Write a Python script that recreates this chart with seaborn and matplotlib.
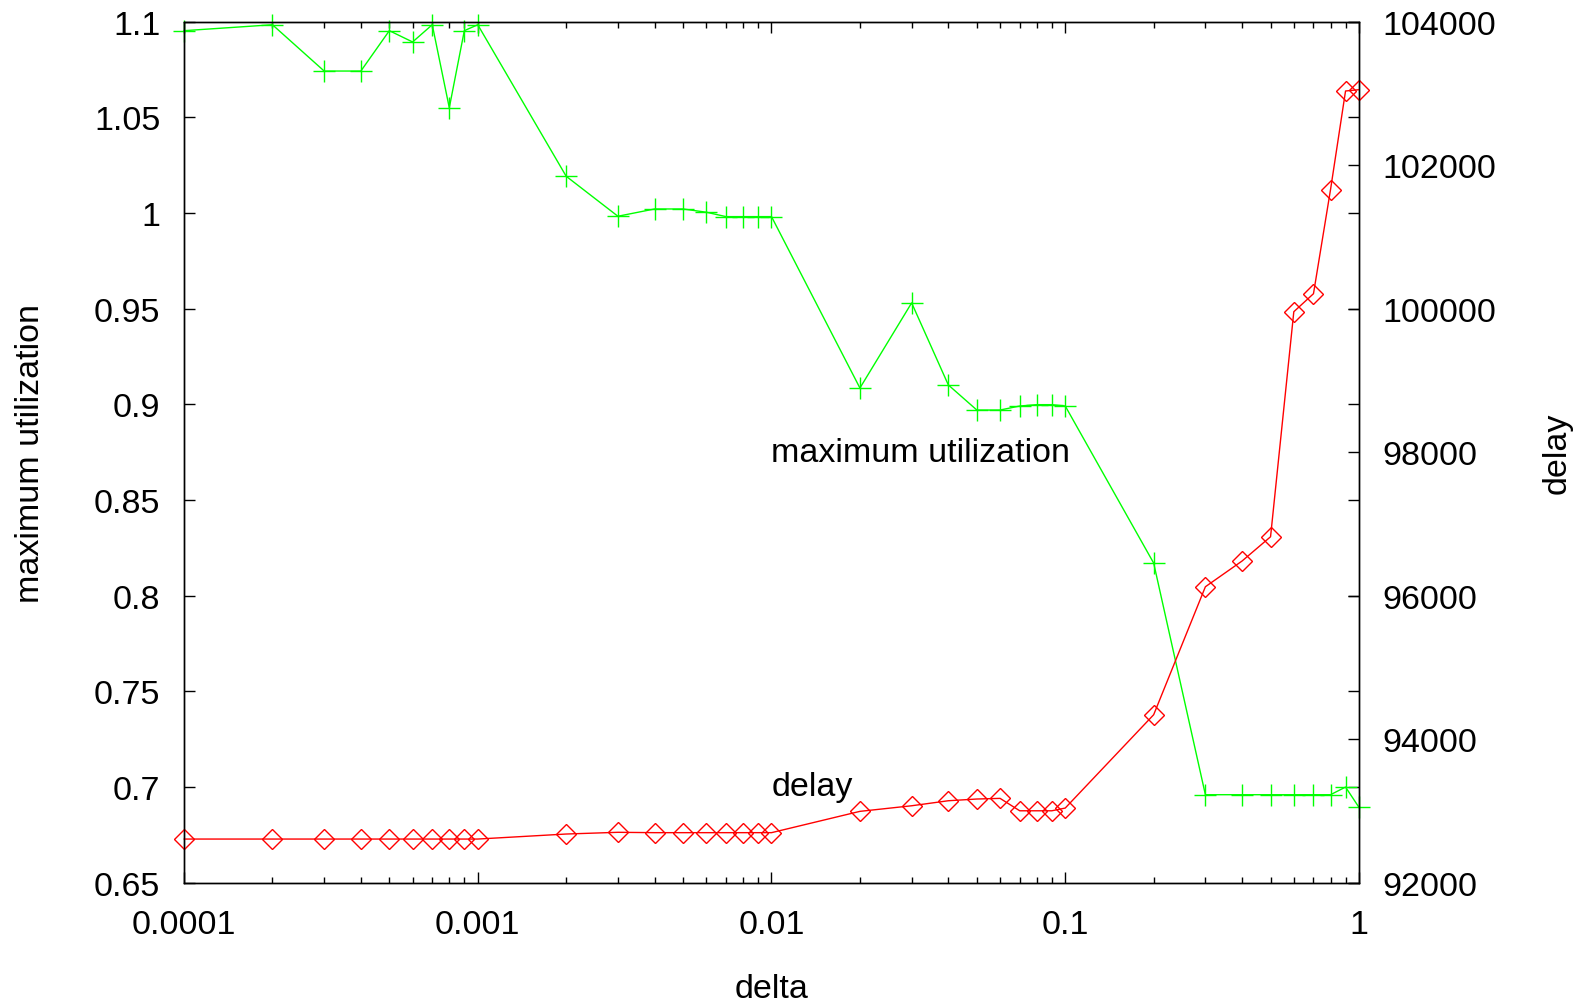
import numpy as np
import pandas as pd
import matplotlib
matplotlib.use("Agg")
import matplotlib.pyplot as plt
import matplotlib.ticker as mticker
import seaborn as sns

# ---- data ----
delta = [0.0001, 0.0002, 0.0003, 0.0004, 0.0005, 0.0006, 0.0007, 0.0008, 0.0009,
         0.001, 0.002, 0.003, 0.004, 0.005, 0.006, 0.007, 0.008, 0.009,
         0.01, 0.02, 0.03, 0.04, 0.05, 0.06, 0.07, 0.08, 0.09,
         0.1, 0.2, 0.3, 0.4, 0.5, 0.6, 0.7, 0.8, 0.9, 1.0]

max_util = [1.0953, 1.0984, 1.0742, 1.0742, 1.0953, 1.0894, 1.0984, 1.0550, 1.0953,
            1.0984, 1.0192, 0.9983, 1.0021, 1.0021, 1.0004, 0.9981, 0.9981, 0.9981,
            0.9981, 0.9085, 0.9530, 0.9101, 0.8970, 0.8970, 0.8991, 0.8998, 0.8998,
            0.8991, 0.8170, 0.6959, 0.6959, 0.6959, 0.6959, 0.6959, 0.6959, 0.6999, 0.6893]

delay = [92606, 92606, 92606, 92606, 92606, 92606, 92606, 92606, 92606,
         92606, 92676, 92700, 92695, 92695, 92695, 92695, 92695, 92695,
         92695, 92992, 93070, 93140, 93164, 93173, 93000, 93000, 93000,
         93038, 94339, 96123, 96482, 96820, 99957, 100208, 101658, 103034, 103052]

x_ticks = [0.0001, 0.001, 0.01, 0.1, 1]
x_tick_labels = ["0.0001", "0.001", "0.01", "0.1", "1"]
y_ticks = [0.65, 0.7, 0.75, 0.8, 0.85, 0.9, 0.95, 1.0, 1.05, 1.1]
y_tick_labels = ["0.65", "0.7", "0.75", "0.8", "0.85", "0.9", "0.95", "1", "1.05", "1.1"]
y2_ticks = [92000, 94000, 96000, 98000, 100000, 102000, 104000]
y2_tick_labels = ["92000", "94000", "96000", "98000", "100000", "102000", "104000"]

df = pd.DataFrame({"delta": delta, "max_util": max_util, "delay": delay})

# ---- style ----
sns.set_theme(style="white")
plt.rcParams["font.family"] = ["Liberation Sans", "DejaVu Sans"]
plt.rcParams["text.color"] = "black"
plt.rcParams["axes.labelcolor"] = "black"
plt.rcParams["xtick.color"] = "black"
plt.rcParams["ytick.color"] = "black"
FS = 24.5

fig = plt.figure(figsize=(15.85, 10.04), dpi=100)
ax = fig.add_axes([0.1161, 0.12, 0.8574 - 0.1161, 0.9774 - 0.12])
ax2 = ax.twinx()

sns.lineplot(data=df, x="delta", y="max_util", ax=ax, color="#00ff00",
             marker="+", markersize=16.5, markeredgewidth=1.0, linewidth=1.0,
             markeredgecolor="#00ff00", markerfacecolor="none", clip_on=False)
sns.lineplot(data=df, x="delta", y="delay", ax=ax2, color="#ff0000",
             marker="D", markersize=10.2, markeredgewidth=1.0, linewidth=1.0,
             markeredgecolor="#ff0000", markerfacecolor="none", clip_on=False)

for a in (ax, ax2):
    a.set_xscale("log")
    a.set_xlim(0.0001, 1)
    for s in a.spines.values():
        s.set_color("black")
        s.set_linewidth(1.0)

ax.set_ylim(0.65, 1.1)
ax2.set_ylim(92000, 104000)

ax.xaxis.set_major_locator(mticker.FixedLocator(x_ticks))
ax.xaxis.set_major_formatter(mticker.FixedFormatter(x_tick_labels))
ax.xaxis.set_minor_locator(mticker.LogLocator(base=10, subs=np.arange(2, 10), numticks=20))
ax.xaxis.set_minor_formatter(mticker.NullFormatter())

ax.set_yticks(y_ticks)
ax.set_yticklabels(y_tick_labels)
ax2.set_yticks(y2_ticks)
ax2.set_yticklabels(y2_tick_labels)

ax.tick_params(axis="x", which="major", direction="in", top=True, bottom=True,
               length=8, width=1, labelsize=FS, pad=19, colors="black")
ax.tick_params(axis="x", which="minor", direction="in", top=True, bottom=True,
               length=4, width=1, colors="black")
ax.tick_params(axis="y", which="major", direction="in", left=True, right=True,
               length=8, width=1, labelsize=FS, pad=17, colors="black")
ax2.tick_params(axis="y", which="major", direction="in", left=False, right=True,
                length=8, width=1, labelsize=FS, pad=17, colors="black")
ax2.tick_params(axis="y", which="minor", left=False, right=False)

ax.set_xlabel("delta", fontsize=FS, color="black")
ax.xaxis.set_label_coords(0.5, -0.123)
ax.xaxis.label.set_va("center")
ax.set_ylabel("maximum utilization", fontsize=FS, color="black")
ax.yaxis.set_label_coords(-0.1305, 0.5)
ax.yaxis.label.set_va("center")
ax2.set_ylabel("delay", fontsize=FS, rotation=90, color="black")
ax2.yaxis.set_label_coords(1.1685, 0.5)
ax2.yaxis.label.set_va("center")

ax.text(0.01, 0.875, "maximum utilization", fontsize=FS, ha="left", va="center", color="black")
ax.text(0.01, 0.7, "delay", fontsize=FS, ha="left", va="center", color="black")

ax.grid(False)
ax2.grid(False)

fig.savefig("out.png", dpi=100)
